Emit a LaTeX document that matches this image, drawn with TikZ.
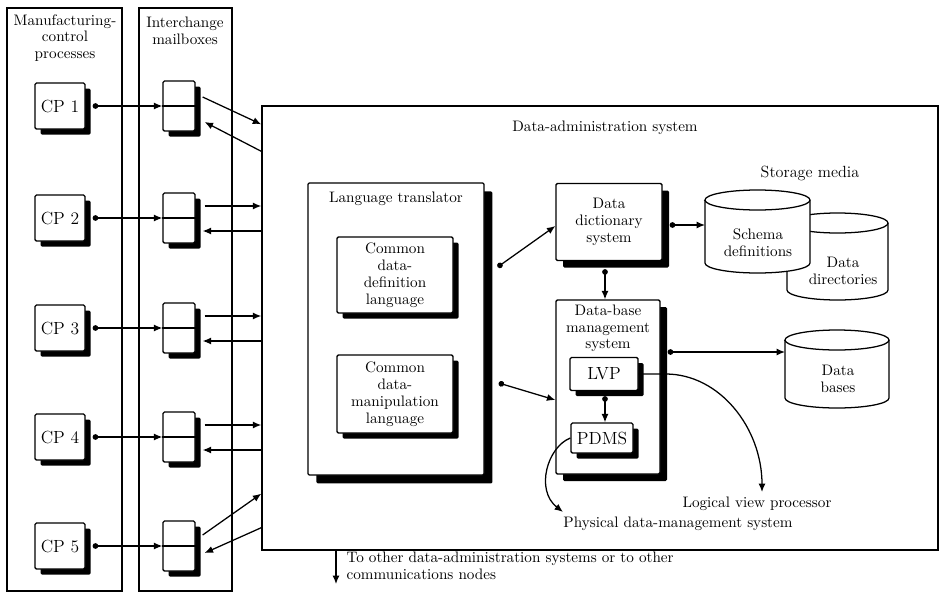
\documentclass[tikz,border=0pt]{standalone}
\usetikzlibrary{arrows.meta,shadows,calc,positioning}
\begin{document}
\begin{tikzpicture}[x=0.025cm, y=-0.025cm, line width=0.9pt,
    font=\fontsize{10.8}{12}\selectfont,
    box/.style={draw, fill=white, rounded corners=1pt, align=center, inner sep=2pt,
      drop shadow={shadow xshift=#1, shadow yshift=-#1, opacity=1, fill=black}},
    box/.default=4pt,
    big/.style={font=\fontsize{12.5}{14}\selectfont},
    cpbox/.style={box, big, minimum width=1.25cm, minimum height=1.15cm},
    mbox/.style={box, minimum width=0.8cm, minimum height=1.25cm},
    link/.style={{Circle[length=4pt]}-{Latex[length=6pt,width=5pt]}},
    feed/.style={-{Latex[length=6pt,width=5pt]}}]
  \useasboundingbox (0,0) rectangle (943,593);

  % outer frames
  \draw (7,8) rectangle (122,591);
  \draw (139,8) rectangle (232,591);
  \node[align=center] (mcp) at (65,38) {Manufacturing-\\control\\processes};
  \node[align=center] (icm) at (185,31) {Interchange\\mailboxes};
  \node[draw, minimum width=16.9cm, minimum height=11.1cm] (das) at (600,328) {};
  \node (daslbl) at (605,128) {Data-administration system};

  % processes and mailboxes
  \foreach \i/\y in {1/106,2/218,3/328,4/437,5/546} {
    \node[cpbox] (cp\i) at (60,\y) {CP \i};
    \node[mbox] (mb\i) at (179,\y) {};
    \draw (mb\i.west) -- (mb\i.east);
    \draw[link] ($(cp\i.east)+(7,0)$) -- (mb\i.west);
  }
  \foreach \i in {2,3,4} {
    \draw[feed] ($(mb\i.east)+(9,-12)$) -- ($(das.west |- mb\i.east)+(0,-12)$);
    \draw[feed] ($(das.west |- mb\i.east)+(0,13)$) -- ($(mb\i.east)+(7,13)$);
  }
  \draw[feed] ($(mb1.east)+(7,-9)$) -- ($(das.north west)+(0,19)$);
  \draw[feed] ($(das.north west)+(0,46)$) -- ($(mb1.east)+(9,16)$);
  \draw[feed] ($(mb5.east)+(7,-11)$) -- ($(das.south west)+(0,-57)$);
  \draw[feed] ($(das.south west)+(0,-23)$) -- ($(mb5.east)+(9,7)$);

  \coordinate (ext) at (336,584);
  \draw[feed] (das.south -| ext) -- (ext);
  \node[anchor=north west, align=left, inner sep=0pt] (extlbl) at (346,551)
    {To other data-administration systems or to other\\communications nodes};

  % language translator
  \node[box=6pt, minimum width=4.4cm, minimum height=7.3cm] (lt) at (396,329) {};
  \node[below=3pt of lt.north] (ltlbl) {Language translator};
  \node[box, minimum width=2.9cm, minimum height=1.9cm] (cddl) at (395,275)
    {Common\\data-\\definition\\language};
  \node[box, minimum width=2.9cm, minimum height=1.95cm] (cdml) at (395,394)
    {Common\\data-\\manipulation\\language};

  % dictionary and data-base management
  \node[box=5pt, minimum width=2.65cm, minimum height=1.925cm] (dds) at (609,222)
    {Data\\dictionary\\system};
  \node[box=5pt, minimum width=2.6cm, minimum height=4.35cm] (dbms) at (608,387) {};
  \node[below=0pt of dbms.north, align=center] (dbmslbl) {Data-base\\management\\system};
  \node[box, big, minimum width=1.7cm, minimum height=0.825cm] (lvp) at (604,374) {LVP};
  \node[box, big, minimum width=1.55cm, minimum height=0.75cm] (pdms) at (602,438) {PDMS};

  % storage media
  \draw[fill=white] (787,223) -- (787,290) arc[start angle=180, end angle=360, x radius=1.2625cm, y radius=0.25cm]
    -- (888,223) arc[start angle=0, end angle=180, x radius=1.2625cm, y radius=0.25cm] -- cycle;
  \draw (787,223) arc[start angle=180, end angle=360, x radius=1.2625cm, y radius=0.25cm];
  \draw[fill=white] (705,200) -- (705,263) arc[start angle=180, end angle=360, x radius=1.3125cm, y radius=0.25cm]
    -- (810,200) arc[start angle=0, end angle=180, x radius=1.3125cm, y radius=0.25cm] -- cycle;
  \draw (705,200) arc[start angle=180, end angle=360, x radius=1.3125cm, y radius=0.25cm];
  \draw[fill=white] (785,340) -- (785,398) arc[start angle=180, end angle=360, x radius=1.3cm, y radius=0.25cm]
    -- (889,340) arc[start angle=0, end angle=180, x radius=1.3cm, y radius=0.25cm] -- cycle;
  \draw (785,340) arc[start angle=180, end angle=360, x radius=1.3cm, y radius=0.25cm];
  \coordinate (sdw) at (705,225);
  \coordinate (dbw) at (785,352);
  \node[font=\fontsize{11.5}{13}\selectfont] (smlbl) at (810,173) {Storage media};
  \node[align=center] (sdlbl) at (758,243) {Schema\\definitions};
  \node[align=center] (ddlbl) at (843,271) {Data\\directories};
  \node[align=center] (dblbl) at (838,379) {Data\\bases};

  % links
  \draw[link] ($(lt.east |- 0,267)+(13,0)$) -- (dds.west |- 0,226);
  \draw[link] ($(lt.east |- 0,383)+(14,0)$) -- (dbms.west |- 0,400);
  \draw[link] ($(dds.east |- 0,225)+(7,0)$) -- (sdw);
  \draw[link] ($(dds.south -| 605,0)+(0,8)$) -- (dbms.north -| 605,0);
  \draw[link] ($(lvp.south -| 605,0)+(0,5)$) -- (pdms.north -| 605,0);
  \draw[link] ($(dbms.east |- 0,352)+(7,0)$) -- (dbw);

  \draw[feed] (lvp.east) -- ++(27,0) .. controls +(54,0) and +(0,-64) .. (762,492);
  \draw[feed] (pdms.west) .. controls +(-23,9) and +(-28,-22) .. (563,512);
  \node (lvplbl) at (757,504) {Logical view processor};
  \node (pdmslbl) at (678,524) {Physical data-management system};
\end{tikzpicture}
\end{document}
